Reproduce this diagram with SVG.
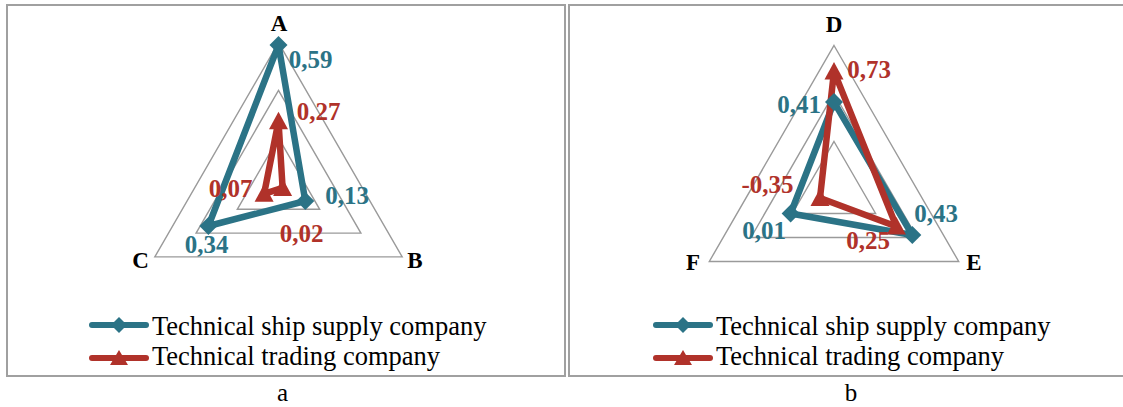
<svg xmlns="http://www.w3.org/2000/svg" width="1123" height="407" viewBox="0 0 1123 407">
<style>
.frame{fill:#fff;stroke:#a0a0a0;stroke-width:2}
.grid{fill:none;stroke:#9a9a9a;stroke-width:1.4}
.blue{fill:none;stroke:#2b7386;stroke-width:6.5;stroke-linejoin:round;stroke-linecap:round}
.red{fill:none;stroke:#b0322a;stroke-width:6.5;stroke-linejoin:round;stroke-linecap:round}
.bm{fill:#2b7386}
.rm{fill:#b0322a}
.ax{font-family:"Liberation Serif","Times New Roman",serif;font-weight:bold;font-size:23px;fill:#000;text-anchor:middle}
.vb{font-family:"Liberation Serif","Times New Roman",serif;font-weight:bold;font-size:25px;fill:#2b7386;text-anchor:middle}
.vr{font-family:"Liberation Serif","Times New Roman",serif;font-weight:bold;font-size:25px;fill:#b0322a;text-anchor:middle}
.lg{font-family:"Liberation Serif","Times New Roman",serif;font-size:26.5px;fill:#000}
.cap{font-family:"Liberation Serif","Times New Roman",serif;font-size:25px;fill:#000;text-anchor:middle}
</style>
<defs>
<path id="dia" d="M0,-9 L9,0 L0,9 L-9,0 Z"/>
<path id="tri" d="M0,-9.5 L9.5,8 L-9.5,8 Z"/>
<path id="ldia" d="M0,-8 L8,0 L0,8 L-8,0 Z"/>
<path id="ltri" d="M0,-8 L9,7 L-9,7 Z"/>
</defs>
<rect class="frame" x="7" y="5" width="558" height="371"/>
<rect class="frame" x="569" y="5" width="560" height="371"/>

<g id="chart-a">
<g id="grid-a">
<polygon class="grid" points="278.5,42.7 402.2,256.9 154.8,256.9"/>
<polygon class="grid" points="278.5,90.3 360.9,233.1 196.1,233.1"/>
<polygon class="grid" points="278.5,137.9 319.7,209.3 237.3,209.3"/>
</g>
<g id="connectors-a">
<polygon class="blue" points="278.5,45.1 305.3,201 208.4,226"/>
<polygon class="red" points="278.5,121.2 282.6,187.9 264.1,193.8"/>
</g>
<g id="markers-a">
<use href="#dia" class="bm" x="278.5" y="45.1"/>
<use href="#dia" class="bm" x="305.3" y="201"/>
<use href="#dia" class="bm" x="208.4" y="226"/>
<use href="#tri" class="rm" x="278.5" y="121.2"/>
<use href="#tri" class="rm" x="282.6" y="187.9"/>
<use href="#tri" class="rm" x="264.1" y="193.8"/>
</g>
<g id="node-A"><text class="ax" x="279" y="30.5">A</text></g>
<g id="node-B"><text class="ax" x="415" y="268">B</text></g>
<g id="node-C"><text class="ax" x="140.5" y="268">C</text></g>
<g id="labels-a">
<text class="vb" x="310.5" y="68">0,59</text>
<text class="vr" x="318.5" y="120">0,27</text>
<text class="vr" x="230.5" y="197">0,07</text>
<text class="vb" x="347" y="204">0,13</text>
<text class="vr" x="301.5" y="242">0,02</text>
<text class="vb" x="206.5" y="253">0,34</text>
</g>
<g id="legend-a">
<line class="blue" x1="92" y1="325" x2="146" y2="325" style="stroke-width:6"/>
<use href="#ldia" class="bm" x="119" y="325"/>
<text class="lg" x="152" y="334.5">Technical ship supply company</text>
<line class="red" x1="92" y1="358" x2="146" y2="358" style="stroke-width:6"/>
<use href="#ltri" class="rm" x="119" y="358"/>
<text class="lg" x="152" y="364.5">Technical trading company</text>
</g>
</g>

<g id="chart-b">
<g id="grid-b">
<polygon class="grid" points="834,45.5 958.7,261.5 709.3,261.5"/>
<polygon class="grid" points="834,93.5 917.1,237.5 750.9,237.5"/>
<polygon class="grid" points="834,141.5 875.6,213.5 792.4,213.5"/>
</g>
<g id="connectors-b">
<polygon class="blue" points="834,102.1 912.3,235 790.6,213.5"/>
<polygon class="red" points="834,71.4 896.4,226.5 820,198"/>
</g>
<g id="markers-b">
<use href="#dia" class="bm" x="834" y="102.1"/>
<use href="#dia" class="bm" x="912.3" y="235"/>
<use href="#dia" class="bm" x="790.6" y="213.5"/>
<use href="#tri" class="rm" x="834" y="71.4"/>
<use href="#tri" class="rm" x="896.4" y="226.5"/>
<use href="#tri" class="rm" x="820" y="198"/>
</g>
<g id="node-D"><text class="ax" x="834" y="31.5">D</text></g>
<g id="node-E"><text class="ax" x="974" y="270">E</text></g>
<g id="node-F"><text class="ax" x="693" y="270">F</text></g>
<g id="labels-b">
<text class="vr" x="869" y="78">0,73</text>
<text class="vb" x="799" y="113">0,41</text>
<text class="vr" x="767.5" y="193">-0,35</text>
<text class="vb" x="936" y="221.5">0,43</text>
<text class="vb" x="764" y="238.5">0,01</text>
<text class="vr" x="868" y="248.5">0,25</text>
</g>
<g id="legend-b">
<line class="blue" x1="656" y1="325" x2="710" y2="325" style="stroke-width:6"/>
<use href="#ldia" class="bm" x="683" y="325"/>
<text class="lg" x="716" y="334.5">Technical ship supply company</text>
<line class="red" x1="656" y1="358" x2="710" y2="358" style="stroke-width:6"/>
<use href="#ltri" class="rm" x="683" y="358"/>
<text class="lg" x="716" y="364.5">Technical trading company</text>
</g>
</g>

<text class="cap" x="282.5" y="401">a</text>
<text class="cap" x="851" y="401">b</text>
</svg>
